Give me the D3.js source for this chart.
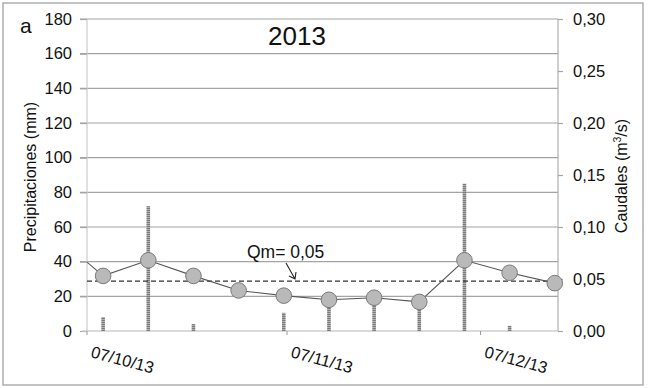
<!DOCTYPE html>
<html><head><meta charset="utf-8">
<script src="https://cdn.jsdelivr.net/npm/d3@7"></script>
<style>body{margin:0;background:#fff}svg{display:block}text{font-family:"Liberation Sans",Arial,sans-serif;fill:#111}</style>
</head><body><svg id="c" width="650" height="388"></svg>
<script>
// ---- data ----
const dates = ["2013-10-02","2013-10-09","2013-10-16","2013-10-23","2013-10-30","2013-11-06","2013-11-13","2013-11-20","2013-11-27","2013-12-04","2013-12-11","2013-12-18"];
const caudales = [0.090,0.053,0.068,0.053,0.039,0.034,0.030,0.032,0.028,0.068,0.056,0.046];
const precipitaciones = [0,8,72,4,0,10.5,17,23,14,85,3,0];
const leftTicks = [0,20,40,60,80,100,120,140,160,180];
const rightTicks = [0,0.05,0.10,0.15,0.20,0.25,0.30];
const xTickDates = ["2013-10-07","2013-11-07","2013-12-07"];
const qm = 0.048;
const title = "2013";

// ---- layout ----
const svg = d3.select("#c");
const L = 87, R = 558, T = 19, B = 331;
const parse = d3.utcParse("%Y-%m-%d");
const mid = s => new Date(parse(s).getTime() + 12*3600*1000);
const x = d3.scaleUtc().domain([parse("2013-10-07"), parse("2013-12-19")]).range([L, R]);
const yL = d3.scaleLinear().domain([0,180]).range([B, T]);
const yR = d3.scaleLinear().domain([0,0.30]).range([B, T]);

svg.append("rect").attr("x",3).attr("y",3).attr("width",640).attr("height",382)
  .attr("fill","#fff").attr("stroke","#9a9a9a").attr("stroke-width",1.2);

const defs = svg.append("defs");
defs.append("clipPath").attr("id","plot").append("rect").attr("x",L).attr("y",T).attr("width",R-L).attr("height",B-T);
const pat = defs.append("pattern").attr("id","hatch").attr("patternUnits","userSpaceOnUse").attr("width",4).attr("height",2);
pat.append("rect").attr("width",4).attr("height",1).attr("fill","#7a7a7a");
pat.append("rect").attr("y",1).attr("width",4).attr("height",1).attr("fill","#b0b0b0");

// gridlines
svg.append("g").selectAll("line").data(leftTicks.filter(d=>d>0)).join("line")
  .attr("x1",L-7).attr("x2",R).attr("y1",d=>yL(d)).attr("y2",d=>yL(d))
  .attr("stroke","#a4a4a4").attr("stroke-width",1.2);

// axis lines
svg.append("line").attr("x1",L).attr("x2",L).attr("y1",T).attr("y2",B).attr("stroke","#cbcbcb").attr("stroke-width",1.2);
svg.append("line").attr("x1",R).attr("x2",R).attr("y1",T).attr("y2",B).attr("stroke","#b0b0b0").attr("stroke-width",1.2);

// left axis
const ax = svg.append("g").attr("transform",`translate(${L},0)`)
  .call(d3.axisLeft(yL).tickValues(leftTicks).tickSize(7).tickPadding(8));
ax.select(".domain").remove();
ax.selectAll(".tick line").attr("stroke","#a4a4a4").attr("stroke-width",1.2);
ax.selectAll(".tick text").attr("font-size",16.5).attr("fill","#111").style("font-family","Liberation Sans, Arial, sans-serif");

// right axis
const fmt = d => d3.format(".2f")(d).replace(".", ",");
const ar = svg.append("g").attr("transform",`translate(${R},0)`)
  .call(d3.axisRight(yR).tickValues(rightTicks).tickFormat(fmt).tickSize(5).tickPadding(10));
ar.select(".domain").remove();
ar.selectAll(".tick line").attr("stroke","#a4a4a4").attr("stroke-width",1.2);
ar.selectAll(".tick text").attr("font-size",16.5).attr("fill","#111").style("font-family","Liberation Sans, Arial, sans-serif");

// x axis
svg.append("line").attr("x1",L-5).attr("x2",R).attr("y1",B).attr("y2",B).attr("stroke","#cfcfcf").attr("stroke-width",1.5);
const xt = svg.append("g");
xTickDates.forEach(s => {
  const px = x(parse(s));
  xt.append("line").attr("x1",px).attr("x2",px).attr("y1",B).attr("y2",B+4).attr("stroke","#999");
  const p = parse(s);
  xt.append("text").attr("transform",`translate(${px+3},${B+26}) rotate(15)`)
    .attr("font-size",16.5).text(d3.utcFormat("%d/%m/%y")(p));
});

// bars
const barW = 3.6;
svg.append("g").attr("clip-path","url(#plot)").selectAll("rect").data(dates.map((d,i)=>({d:mid(d), v:precipitaciones[i]})).filter(o=>o.v>0)).join("rect")
  .attr("x",o=>x(o.d)-barW/2).attr("width",barW)
  .attr("y",o=>yL(o.v)).attr("height",o=>B-yL(o.v))
  .attr("fill","url(#hatch)");

// Qm dashed
svg.append("line").attr("x1",L).attr("x2",R).attr("y1",yR(qm)).attr("y2",yR(qm))
  .attr("stroke","#333").attr("stroke-width",1.2).attr("stroke-dasharray","5,3");

// discharge line
const pts = dates.map((d,i)=>({d:mid(d), v:caudales[i]}));
svg.append("path").attr("clip-path","url(#plot)").datum(pts)
  .attr("d", d3.line().x(o=>x(o.d)).y(o=>yR(o.v)))
  .attr("fill","none").attr("stroke","#555").attr("stroke-width",1.1);
svg.append("g").selectAll("circle").data(pts.filter(o=>x(o.d)>=L)).join("circle")
  .attr("cx",o=>x(o.d)).attr("cy",o=>yR(o.v)).attr("r",7.8)
  .attr("fill","#b9b9b9").attr("stroke","#7a7a7a").attr("stroke-width",1);

// annotation
svg.append("text").attr("x",247).attr("y",258).attr("font-size",17.5).text("Qm= 0,05");
svg.append("path").attr("d","M286,263 L295,279 M289,276 L295,279 L296,272")
  .attr("fill","none").attr("stroke","#222").attr("stroke-width",1.1);

// titles
svg.append("text").attr("x",297).attr("y",45).attr("text-anchor","middle").attr("font-size",26).text(title);
svg.append("text").attr("x",20).attr("y",33).attr("font-size",21).text("a");
svg.append("text").attr("transform","translate(36,177) rotate(-90)").attr("text-anchor","middle").attr("font-size",16).text("Precipitaciones (mm)");
const rt = svg.append("text").attr("transform","translate(627,176) rotate(-90)").attr("text-anchor","middle").attr("font-size",16);
rt.append("tspan").text("Caudales (m");
rt.append("tspan").attr("dy",-6).attr("font-size",10.5).text("3");
rt.append("tspan").attr("dy",6).text("/s)");
</script></body></html>
